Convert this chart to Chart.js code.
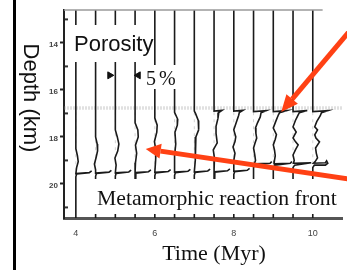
<!DOCTYPE html>
<html>
<head>
<meta charset="utf-8">
<script src="https://cdn.jsdelivr.net/npm/chart.js@4.4.0/dist/chart.umd.min.js"></script>
<style>
  html, body { margin: 0; padding: 0; background: #fff; }
</style>
</head>
<body>
<canvas id="grafico" width="347" height="270"></canvas>
<script>
// tempos (Myr) de cada perfil de porosidade
const tempos = [4, 4.5, 5, 5.5, 6, 6.5, 7, 7.5, 8, 8.5, 9, 9.5, 10];
const ticksTempo = [4, 6, 8, 10];
const ticksProf = [13, 14, 15, 16, 17, 18, 19, 20, 21];
// 5% de porosidade = 0.5 Myr no eixo do tempo
const escalaPorosidade = 0.1;
// topo das ondas (faixa cinza)
const topoOndas = 16.77;
// marcas da barra de escala de 5% [tempo, profundidade]
const barraEscala = [[4.86, 15.38], [5.58, 15.38]];

// perfis: [profundidade (km), porosidade (%)]
const perfil4_0 = [[12.6,0],[18.5,0],[18.8,0.4],[19.05,0.6],[19.3,0.2],[19.56,0],[19.52,3.4],[19.44,4.0],[19.52,3.4],[19.58,0.2],[19.7,0],[21.45,0]];
const perfil4_5 = [[12.6,0],[18.0,0],[18.3,0.4],[18.6,0.5],[18.9,0.1],[19.15,-0.3],[19.4,0],[19.54,0],[19.5,3.4],[19.42,4.0],[19.5,3.4],[19.56,0.2],[19.68,0],[21.45,0]];
const perfil5_0 = [[12.6,0],[17.7,0],[18.0,0.5],[18.3,0.9],[18.6,0.6],[18.9,-0.1],[19.2,0.2],[19.53,0],[19.49,3.4],[19.41,4.0],[19.49,3.4],[19.55,0.2],[19.67,0],[21.45,0]];
const perfil5_5 = [[12.6,0],[17.4,0],[17.7,0.7],[18.0,0.8],[18.35,0.1],[18.7,0.4],[19.1,0.1],[19.52,0],[19.48,3.4],[19.4,4.0],[19.48,3.4],[19.54,0.2],[19.66,0],[21.45,0]];
const perfil6_0 = [[12.6,0],[17.2,0],[17.5,0.6],[17.8,0.5],[18.2,-0.1],[18.6,0.3],[19.0,0.2],[19.51,0],[19.47,3.4],[19.39,4.0],[19.47,3.4],[19.53,0.2],[19.65,0],[21.45,0]];
const perfil6_5 = [[12.6,0],[16.95,0],[17.25,0.8],[17.5,0.7],[17.8,0.1],[18.3,0.3],[18.8,0],[19.5,0],[19.46,3.4],[19.38,4.0],[19.46,3.4],[19.52,0.2],[19.64,0],[21.45,0]];
const perfil7_0 = [[12.6,0],[16.9,0],[17.0,0.3],[17.3,1.0],[17.7,1.1],[18.0,0.4],[18.5,0.2],[19.0,0.3],[19.49,0],[19.45,3.4],[19.37,4.0],[19.45,3.4],[19.51,0.2],[19.63,0],[21.45,0]];
const perfil7_5 = [[12.6,0],[16.9,0],[16.87,2.0],[16.96,1.2],[17.2,1.0],[17.55,0.5],[17.85,0.5],[18.25,0.8],[18.55,-0.2],[18.9,0.1],[19.3,0],[19.48,0],[19.44,3.4],[19.36,4.0],[19.44,3.4],[19.5,0.2],[19.62,0],[21.45,0]];
const perfil8_0 = [[12.6,0],[16.9,0],[16.87,2.3],[16.96,1.4],[17.1,1.2],[17.4,0.6],[17.7,0],[18.0,0.5],[18.2,0.3],[18.43,-0.2],[18.7,0.3],[19.0,0],[19.46,0],[19.42,3.4],[19.34,4.0],[19.42,3.4],[19.48,0.2],[19.6,0],[21.45,0]];
const perfil8_5 = [[12.6,0],[16.92,0],[16.88,3.2],[16.97,1.9],[17.15,1.7],[17.4,1.0],[17.62,0.5],[17.85,0.6],[18.05,0.8],[18.25,0.4],[18.47,0],[18.75,0.3],[19.0,0.5],[19.14,0.2],[19.12,4.2],[19.05,4.6],[19.12,4.2],[19.2,0.4],[19.3,0],[21.45,0]];
const perfil9_0 = [[12.6,0],[16.92,0],[16.88,3.4],[16.97,1.6],[17.06,1.3],[17.35,0.6],[17.62,0],[17.9,0.8],[18.1,0.5],[18.34,0],[18.55,0.3],[18.8,0.5],[19.0,0.3],[19.14,0.2],[19.12,4.3],[19.05,4.7],[19.12,4.3],[19.2,0.4],[19.3,0],[21.45,0]];
const perfil9_5 = [[12.6,0],[16.92,0],[16.88,3.6],[16.97,1.6],[17.06,1.3],[17.3,0.6],[17.57,0],[17.79,0.8],[18.04,0],[18.2,0.6],[18.34,1.3],[18.55,0.6],[18.77,0],[19.0,0.3],[19.12,0.1],[19.1,4.6],[19.2,0.4],[19.3,0],[21.45,0]];
const perfil10_0 = [[12.6,0],[16.92,0],[16.88,3.8],[16.97,2.2],[17.1,1.9],[17.35,1.0],[17.57,0.5],[17.7,1.2],[17.91,0.5],[18.05,0.8],[18.21,1.7],[18.47,0.7],[18.7,0.9],[18.89,1.2],[19.05,0.6],[19.12,0.2],[19.1,3.2],[19.02,3.5],[19.12,3.8],[19.2,3.2],[19.2,0.4],[19.3,0],[21.45,0]];

const perfis = [perfil4_0, perfil4_5, perfil5_0, perfil5_5, perfil6_0, perfil6_5, perfil7_0,
                perfil7_5, perfil8_0, perfil8_5, perfil9_0, perfil9_5, perfil10_0];

// setas vermelhas [tempo, profundidade]
const setaCima = { ponta: [9.2, 16.94], cauda: [10.99, 13.38] };
const setaBaixo = { ponta: [5.77, 18.51], cauda: [10.99, 19.81] };

var datasets = [];

// perfis de porosidade
perfis.forEach(function (perfil, i) {
    datasets.push({
        data: perfil.map(([d, p]) => ({ x: tempos[i] + p * escalaPorosidade, y: d })),
        showLine: true,
        borderColor: '#1a1a1a',
        borderWidth: 1.6,
        pointRadius: 0,
        order: 1
    });
});

// linhas de referência tracejadas (porosidade zero)
var refs = [];
for (let t of tempos) {
    refs.push({ x: t, y: 16.95 }, { x: t, y: 19.4 }, { x: t, y: NaN });
}
datasets.push({
    data: refs,
    showLine: true,
    spanGaps: false,
    borderColor: 'rgba(0,0,0,0.18)',
    borderWidth: 1,
    borderDash: [3, 4],
    pointRadius: 0,
    order: 3
});

// faixa cinza no topo das ondas
datasets.push({
    data: [{ x: 3.7, y: topoOndas }, { x: 10.74, y: topoOndas }],
    showLine: true,
    borderColor: 'rgba(160,160,160,0.32)',
    borderWidth: 3.5,
    borderDash: [2, 1],
    pointRadius: 0,
    order: 4
});

// barra de escala 5%
datasets.push({
    data: barraEscala.map(([t, d]) => ({ x: t, y: d })),
    showLine: false,
    pointStyle: 'triangle',
    pointRotation: [90, -90],
    pointRadius: 4,
    backgroundColor: '#111',
    borderColor: '#111',
    order: 0
});

function seta(ctx, x0, y0, x1, y1, largura, comp, abertura) {
    var ang = Math.atan2(y1 - y0, x1 - x0);
    var bx = x1 - comp * Math.cos(ang), by = y1 - comp * Math.sin(ang);
    ctx.lineWidth = largura;
    ctx.beginPath();
    ctx.moveTo(x0, y0);
    ctx.lineTo(bx, by);
    ctx.stroke();
    ctx.beginPath();
    ctx.moveTo(x1, y1);
    ctx.lineTo(bx + abertura / 2 * Math.sin(ang), by - abertura / 2 * Math.cos(ang));
    ctx.lineTo(bx - abertura / 2 * Math.sin(ang), by + abertura / 2 * Math.cos(ang));
    ctx.closePath();
    ctx.fill();
}

function caixa(ctx, x, y, w, h) {
    ctx.fillStyle = '#fff';
    ctx.fillRect(x, y, w, h);
}

const anotacoes = {
    id: 'anotacoes',
    afterDatasetsDraw(chart) {
        const ctx = chart.ctx, sx = chart.scales.x, sy = chart.scales.y, area = chart.chartArea;
        ctx.save();

        // linha superior da moldura
        ctx.strokeStyle = '#9a9a9a';
        ctx.lineWidth = 1.5;
        ctx.beginPath();
        ctx.moveTo(area.left, area.top);
        ctx.lineTo(sx.getPixelForValue(10.25), area.top);
        ctx.stroke();

        // ticks menores para dentro
        ctx.fillStyle = '#333';
        for (let v of ticksProf) {
            if (v % 2 !== 0) {
                ctx.fillRect(area.left + 1, sy.getPixelForValue(v) - 1, 3, 2);
            }
        }

        // caixas brancas com texto
        caixa(ctx, 67, 25, 87, 37);
        ctx.fillStyle = '#111';
        ctx.font = '22px "Liberation Sans", Arial, sans-serif';
        ctx.textBaseline = 'alphabetic';
        ctx.fillText('Porosity', 74, 51);

        caixa(ctx, 143, 65, 40, 24);
        ctx.fillStyle = '#111';
        ctx.font = '20px "Liberation Serif", "Times New Roman", serif';
        ctx.letterSpacing = '3px';
        ctx.fillText('5%', 146, 85);
        ctx.letterSpacing = '0px';

        caixa(ctx, 86, 179, 256, 35);
        ctx.fillStyle = '#111';
        ctx.font = '21.7px "Liberation Serif", "Times New Roman", serif';
        ctx.fillText('Metamorphic reaction front', 97, 205);

        // setas vermelhas
        ctx.strokeStyle = '#ff4114';
        ctx.fillStyle = '#ff4114';
        ctx.lineCap = 'butt';
        seta(ctx, sx.getPixelForValue(setaCima.cauda[0]), sy.getPixelForValue(setaCima.cauda[1]),
             sx.getPixelForValue(setaCima.ponta[0]), sy.getPixelForValue(setaCima.ponta[1]), 5, 17, 15);
        seta(ctx, sx.getPixelForValue(setaBaixo.cauda[0]), sy.getPixelForValue(setaBaixo.cauda[1]),
             sx.getPixelForValue(setaBaixo.ponta[0]), sy.getPixelForValue(setaBaixo.ponta[1]), 5, 15, 15);

        ctx.restore();
    },
    afterDraw(chart) {
        const ctx = chart.ctx;
        ctx.save();
        // barra preta à esquerda
        ctx.fillStyle = '#000';
        ctx.fillRect(13, 0, 3, 270);

        ctx.fillStyle = '#111';
        ctx.font = '22px "Liberation Serif", "Times New Roman", serif';
        ctx.textAlign = 'center';
        ctx.fillText('Time (Myr)', 214, 260);

        ctx.font = '22px "Liberation Sans", Arial, sans-serif';
        ctx.textAlign = 'center';
        ctx.translate(24, 98);
        ctx.rotate(Math.PI / 2);
        ctx.fillText('Depth (km)', 0, 0);
        ctx.restore();
    }
};

const grafico = new Chart(document.getElementById('grafico'), {
    type: 'scatter',
    data: { datasets: datasets },
    options: {
        responsive: false,
        animation: false,
        events: [],
        layout: { padding: { top: 10, left: 0, right: 0, bottom: 0 } },
        plugins: { legend: { display: false }, tooltip: { enabled: false } },
        scales: {
            x: {
                type: 'linear',
                min: 3.7,
                max: 10.74,
                afterFit: function (s) { s.height = 52; },
                afterBuildTicks: function (s) { s.ticks = ticksTempo.map(v => ({ value: v })); },
                grid: { drawOnChartArea: false, drawTicks: false },
                border: { color: '#555', width: 3 },
                ticks: { padding: 10, color: '#444', font: { size: 9, family: 'Liberation Sans' } }
            },
            y: {
                type: 'linear',
                reverse: true,
                min: 12.6,
                max: 21.45,
                afterFit: function (s) { s.width = 64; },
                afterBuildTicks: function (s) { s.ticks = ticksProf.map(v => ({ value: v })); },
                grid: {
                    drawOnChartArea: false,
                    tickLength: 4,
                    tickWidth: 2,
                    tickColor: c => (c.tick && c.tick.value % 2 === 0) ? '#222' : 'rgba(0,0,0,0)'
                },
                border: { color: '#222', width: 2 },
                ticks: {
                    padding: 2,
                    labelOffset: 2,
                    color: '#444',
                    font: { size: 8, weight: 'bold', family: 'Liberation Sans' },
                    callback: v => (v % 2 === 0 ? v : '')
                }
            }
        }
    },
    plugins: [anotacoes]
});
</script>
</body>
</html>
